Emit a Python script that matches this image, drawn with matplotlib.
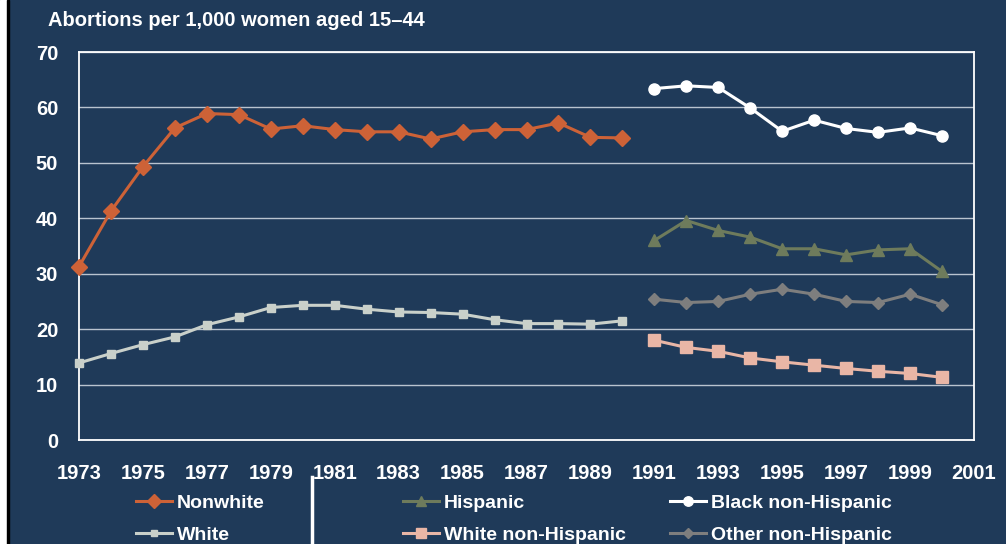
import matplotlib
matplotlib.use("Agg")
import matplotlib.pyplot as plt
from matplotlib.lines import Line2D
from matplotlib.patches import Rectangle

plt.rcParams["font.family"] = ["Liberation Sans", "DejaVu Sans"]

BG = "#1F3A59"
W, H = 1006, 544

# data
years_a = list(range(1973, 1991))
nonwhite = [31.3, 41.3, 49.3, 56.3, 58.9, 58.7, 56.1, 56.7, 56.0, 55.6,
            55.6, 54.3, 55.6, 56.0, 56.0, 57.2, 54.6, 54.5]
white = [13.9, 15.6, 17.2, 18.6, 20.8, 22.2, 23.9, 24.3, 24.3, 23.6,
         23.1, 23.0, 22.7, 21.7, 21.0, 21.0, 20.9, 21.5]

years_b = list(range(1991, 2001))
black_nh = [63.4, 63.9, 63.6, 59.9, 55.7, 57.7, 56.2, 55.5, 56.3, 54.9]
hispanic = [36.0, 39.6, 37.8, 36.6, 34.5, 34.5, 33.4, 34.3, 34.5, 30.4]
other_nh = [25.4, 24.8, 25.0, 26.3, 27.2, 26.3, 25.0, 24.8, 26.3, 24.4]
white_nh = [18.0, 16.7, 16.0, 14.8, 14.1, 13.5, 12.9, 12.4, 12.0, 11.3]

xticks = list(range(1973, 2002, 2))
yticks = list(range(0, 71, 10))

fig = plt.figure(figsize=(W / 100, H / 100), dpi=100, facecolor=BG)
# thin frame at the left edge like the scanned slide
fig.patches.append(Rectangle((0, 0), 7 / W, 1, transform=fig.transFigure,
                             color="white", zorder=0))
fig.patches.append(Rectangle((7 / W, 0), 2 / W, 1, transform=fig.transFigure,
                             color="black", zorder=0))

ax = fig.add_axes([79 / W, 104 / H, 895 / W, 388 / H])
ax.set_facecolor(BG)

series = [
    (years_a, nonwhite, "Nonwhite", "#CD6237", "D", 8),
    (years_a, white, "White", "#C9D0CA", "s", 5.5),
    (years_b, hispanic, "Hispanic", "#6E7B5C", "^", 9),
    (years_b, white_nh, "White non-Hispanic", "#E9B6A6", "s", 8),
    (years_b, black_nh, "Black non-Hispanic", "white", "o", 8),
    (years_b, other_nh, "Other non-Hispanic", "#7E7E7E", "D", 6.5),
]
handles = {}
for xs, ys, lab, col, mk, ms in series:
    ax.plot(xs, ys, color=col, lw=2.2, marker=mk, ms=ms, mec=col,
            mfc=col, clip_on=False, zorder=3, label=lab)
    handles[lab] = Line2D([0], [0], color=col, lw=2.2, marker=mk,
                          ms=ms * 0.85, mec=col, mfc=col)

ax.set_xlim(1973, 2001)
ax.set_ylim(0, 70)
ax.set_xticks(xticks)
ax.set_yticks(yticks)
ax.yaxis.grid(True, color="#B9C3CF", lw=1)
ax.set_axisbelow(True)
for s in ax.spines.values():
    s.set_color("white")
    s.set_linewidth(1.3)
ax.tick_params(length=0, labelcolor="white", labelsize=14.5)
ax.tick_params(axis="y", pad=15)
ax.tick_params(axis="x", pad=17)
for t in ax.get_xticklabels() + ax.get_yticklabels():
    t.set_fontweight("bold")

fig.text(48 / W, 1 - 20 / H, "Abortions per 1,000 women aged 15\u201344",
         color="white", fontsize=14.5, fontweight="bold", va="center")

# legend: three groups, two rows each
groups = [
    (["Nonwhite", "White"], 136),
    (["Hispanic", "White non-Hispanic"], 403),
    (["Black non-Hispanic", "Other non-Hispanic"], 670),
]
for labs, x0 in groups:
    leg = fig.legend([handles[l] for l in labs], labs, loc="upper left",
                     bbox_to_anchor=(x0 / W, 1 - 494 / H), frameon=False,
                     borderpad=0, borderaxespad=0, handlelength=1.85,
                     handletextpad=0.25, labelspacing=0.75,
                     prop={"size": 14, "weight": "bold"})
    for t in leg.get_texts():
        t.set_color("white")

fig.add_artist(Line2D([312 / W, 312 / W], [0, 1 - 477 / H],
                      transform=fig.transFigure, color="white", lw=2.5))

fig.savefig("out.png", dpi=100, facecolor=BG)
